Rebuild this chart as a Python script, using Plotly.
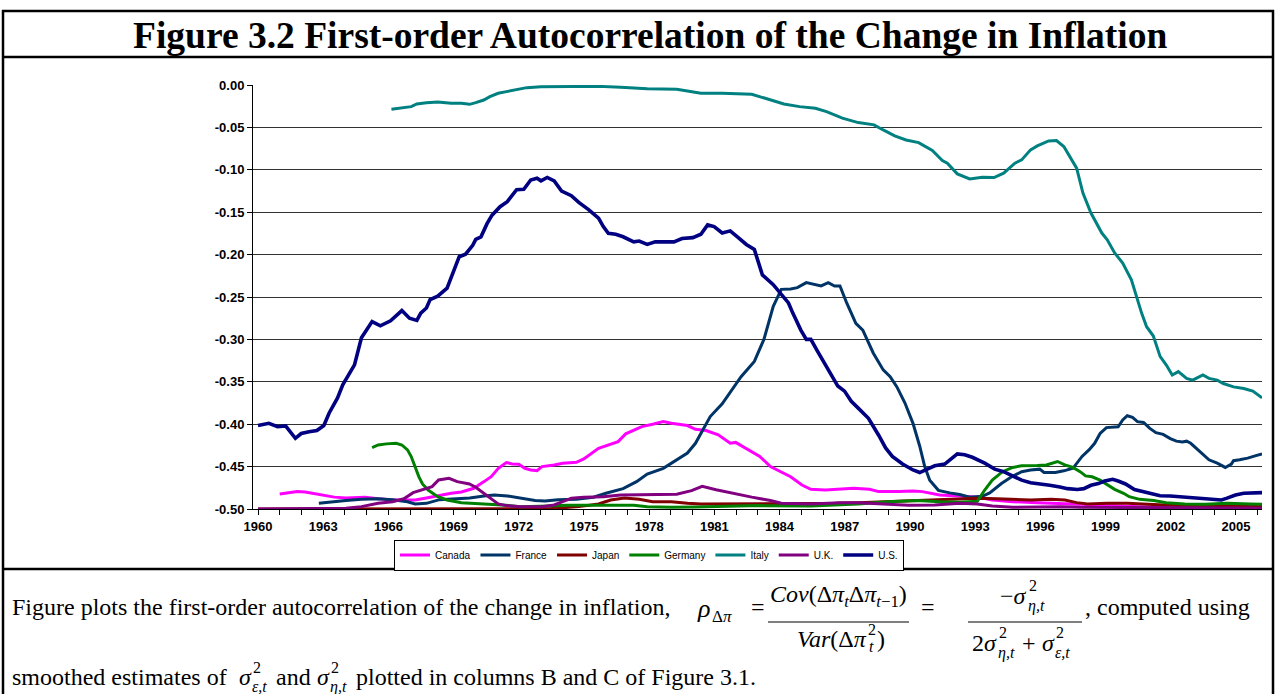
import plotly.graph_objects as go

# ---------------- data ----------------
canada_x = [1961.00, 1961.36, 1961.81, 1962.17, 1962.71, 1963.11, 1963.51, 1964.05, 1964.68, 1964.92, 1965.53, 1966.19,
            1966.88, 1967.23, 1967.75, 1968.40, 1968.89, 1969.36, 1969.93, 1970.40, 1970.73, 1971.06, 1971.43, 1971.71,
            1972.00, 1972.28, 1972.55, 1972.84, 1973.07, 1973.63, 1974.02, 1974.65, 1974.99, 1975.67, 1976.01, 1976.57,
            1976.92, 1977.66, 1978.16, 1978.65, 1979.02, 1979.76, 1980.13, 1980.62, 1981.18, 1981.73, 1981.98, 1982.35,
            1983.09, 1983.58, 1984.08, 1984.51, 1985.03, 1985.44, 1986.11, 1986.78, 1987.41, 1988.14, 1988.56, 1989.51,
            1990.14, 1990.57, 1991.37, 1992.29, 1993.10, 1993.79, 1994.73, 1995.86, 1996.90, 1997.83, 1998.75, 2000.57,
            2002.64, 2004.61, 2006.20]
canada_y = [-0.4823, -0.4807, -0.4795, -0.480, -0.4823, -0.4835, -0.486, -0.487, -0.486, -0.486, -0.488, -0.4894,
            -0.4894, -0.4894, -0.487, -0.4835, -0.4815, -0.480, -0.4756, -0.4677, -0.4618, -0.452, -0.4453, -0.4468,
            -0.4472, -0.452, -0.454, -0.4547, -0.450, -0.448, -0.446, -0.445, -0.441, -0.4284, -0.4252, -0.4205,
            -0.4114, -0.4028, -0.400, -0.3969, -0.3989, -0.4016, -0.406, -0.4075, -0.4126, -0.4225, -0.4215, -0.427,
            -0.438, -0.450, -0.456, -0.462, -0.4717, -0.4768, -0.4776, -0.4768, -0.4756, -0.4768, -0.4795, -0.4795,
            -0.4787, -0.4795, -0.4835, -0.4847, -0.486, -0.4894, -0.4914, -0.4925, -0.4933, -0.494, -0.4953, -0.4972,
            -0.4985, -0.4988, -0.499]

france_x = [1962.80, 1963.39, 1964.05, 1964.76, 1965.53, 1966.19, 1966.88, 1967.23, 1967.75, 1968.35, 1969.08, 1969.74,
            1970.40, 1970.87, 1971.48, 1972.09, 1972.75, 1973.21, 1973.80, 1974.65, 1975.44, 1976.01, 1976.80, 1977.42,
            1977.91, 1978.65, 1979.14, 1979.76, 1980.13, 1980.50, 1980.81, 1981.36, 1981.86, 1982.23, 1982.84, 1983.28,
            1983.71, 1984.08, 1984.51, 1984.82, 1985.23, 1985.65, 1985.91, 1986.24, 1986.53, 1986.78, 1987.09, 1987.51,
            1987.83, 1988.31, 1988.77, 1989.09, 1989.40, 1989.77, 1990.14, 1990.45, 1990.68, 1990.91, 1991.31, 1991.83,
            1992.29, 1992.75, 1993.33, 1993.67, 1994.21, 1994.68, 1995.14, 1995.55, 1995.97, 1996.17, 1996.69, 1997.08,
            1997.50, 1997.92, 1998.25, 1998.50, 1998.75, 1999.04, 1999.33, 1999.58, 1999.79, 2000.00, 2000.24, 2000.47,
            2000.75, 2001.04, 2001.32, 2001.65, 2001.98, 2002.26, 2002.54, 2002.73, 2002.92, 2003.39, 2003.76, 2004.14,
            2004.51, 2004.79, 2004.89, 2005.17, 2005.54, 2005.92, 2006.20]
france_y = [-0.4933, -0.4914, -0.490, -0.4886, -0.488, -0.489, -0.4914, -0.494, -0.4933, -0.489, -0.488, -0.487,
            -0.4846, -0.4835, -0.4846, -0.487, -0.490, -0.4905, -0.489, -0.4886, -0.4862, -0.4815, -0.476, -0.4677,
            -0.4587, -0.452, -0.444, -0.434, -0.4225, -0.405, -0.391, -0.376, -0.358, -0.344, -0.326, -0.300,
            -0.261, -0.241, -0.2405, -0.239, -0.233, -0.235, -0.237, -0.233, -0.237, -0.237, -0.257, -0.281,
            -0.289, -0.316, -0.336, -0.344, -0.356, -0.375, -0.399, -0.426, -0.450, -0.466, -0.478, -0.481,
            -0.483, -0.486, -0.485, -0.481, -0.470, -0.462, -0.456, -0.454, -0.453, -0.457, -0.457, -0.455,
            -0.452, -0.438, -0.430, -0.4225, -0.411, -0.404, -0.403, -0.403, -0.395, -0.390, -0.392, -0.397,
            -0.398, -0.405, -0.410, -0.412, -0.417, -0.420, -0.421, -0.420, -0.4225, -0.434, -0.442, -0.446,
            -0.451, -0.447, -0.443, -0.442, -0.440, -0.437, -0.435]

japan_x = [1960.00, 1973.40, 1974.76, 1975.67, 1976.23, 1976.86, 1977.54, 1978.16, 1979.02, 1979.76, 1980.38, 1981.73,
           1983.09, 1985.44, 1986.58, 1987.62, 1988.77, 1989.93, 1991.14, 1992.29, 1993.10, 1994.00, 1994.73, 1995.55,
           1996.48, 1997.13, 1997.67, 1998.17, 1999.08, 2000.00, 2000.94, 2001.98, 2003.58, 2004.61, 2006.20]
japan_y = [-0.500, -0.4996, -0.4972, -0.494, -0.4894, -0.487, -0.4886, -0.4914, -0.4914, -0.4933, -0.494, -0.494,
           -0.494, -0.4937, -0.4933, -0.4925, -0.4914, -0.4906, -0.4886, -0.4878, -0.4874, -0.4878, -0.4886, -0.4894,
           -0.4886, -0.4894, -0.4925, -0.494, -0.4933, -0.4933, -0.4945, -0.4957, -0.496, -0.4965, -0.4965]

germany_x = [1965.25, 1965.53, 1965.91, 1966.36, 1966.62, 1966.88, 1967.05, 1967.23, 1967.40, 1967.57, 1967.83, 1968.27,
             1968.70, 1969.36, 1970.02, 1970.73, 1971.43, 1972.09, 1972.75, 1973.40, 1974.19, 1974.99, 1975.89, 1976.69,
             1977.29, 1977.91, 1979.02, 1980.13, 1981.73, 1983.09, 1985.44, 1987.62, 1988.98, 1990.35, 1991.37, 1992.29,
             1993.10, 1993.44, 1993.79, 1994.26, 1994.73, 1995.14, 1995.86, 1996.28, 1996.79, 1997.13, 1997.50, 1997.83,
             1998.08, 1998.38, 1998.75, 1999.08, 1999.42, 1999.83, 2000.09, 2000.57, 2001.22, 2001.79, 2002.64, 2003.58,
             2004.61, 2005.64, 2006.20]
germany_y = [-0.4276, -0.4245, -0.4232, -0.4225, -0.4245, -0.4303, -0.4382, -0.450, -0.4618, -0.4705, -0.4776, -0.4854,
             -0.4894, -0.4925, -0.4933, -0.494, -0.4957, -0.4972, -0.4972, -0.4965, -0.4957, -0.4957, -0.4953, -0.4953,
             -0.4957, -0.4972, -0.498, -0.4976, -0.4972, -0.496, -0.4965, -0.494, -0.4914, -0.490, -0.4914, -0.492,
             -0.491, -0.4776, -0.466, -0.456, -0.451, -0.449, -0.4488, -0.448, -0.444, -0.448, -0.451, -0.456,
             -0.461, -0.462, -0.466, -0.4717, -0.4768, -0.4815, -0.4855, -0.4886, -0.490, -0.4925, -0.494, -0.4945,
             -0.4933, -0.494, -0.4945]

italy_x = [1966.14, 1966.45, 1966.71, 1967.05, 1967.31, 1967.75, 1968.27, 1968.53, 1968.89, 1969.36, 1969.74, 1970.02,
           1970.39, 1970.67, 1971.05, 1971.43, 1971.90, 1972.37, 1973.02, 1973.85, 1974.82, 1975.67, 1976.69, 1977.91,
           1979.27, 1979.82, 1980.38, 1981.36, 1982.72, 1983.34, 1984.20, 1984.92, 1985.65, 1986.16, 1986.89, 1987.62,
           1988.35, 1988.77, 1989.30, 1989.82, 1990.40, 1991.03, 1991.49, 1991.72, 1992.18, 1992.75, 1993.33, 1993.87,
           1994.31, 1994.83, 1995.14, 1995.55, 1995.86, 1996.38, 1996.74, 1997.08, 1997.38, 1997.67, 1997.96, 1998.33,
           1998.83, 1999.08, 1999.42, 1999.79, 2000.19, 2000.42, 2000.66, 2000.89, 2001.20, 2001.51, 2001.79, 2002.07,
           2002.35, 2002.73, 2003.01, 2003.48, 2003.76, 2004.14, 2004.42, 2004.89, 2005.36, 2005.78, 2006.20]
italy_y = [-0.0287, -0.0275, -0.0263, -0.0255, -0.0224, -0.0208, -0.0200, -0.0208, -0.0216, -0.0216, -0.0228, -0.0208,
           -0.0177, -0.0137, -0.0098, -0.0078, -0.0059, -0.0031, -0.0020, -0.0016, -0.0012, -0.0016, -0.0027, -0.0043,
           -0.0051, -0.0078, -0.0098, -0.0098, -0.0110, -0.0157, -0.0224, -0.0255, -0.0275, -0.0314, -0.0390, -0.0443,
           -0.0470, -0.0530, -0.0600, -0.0648, -0.0679, -0.0773, -0.0891, -0.0922, -0.1048, -0.1107, -0.1087, -0.1091,
           -0.1040, -0.0922, -0.0883, -0.0765, -0.0718, -0.0659, -0.0655, -0.0726, -0.0863, -0.0981, -0.1275, -0.1510,
           -0.1746, -0.1825, -0.1980, -0.2100, -0.2296, -0.2500, -0.2690, -0.2850, -0.2960, -0.3200, -0.3300, -0.3420,
           -0.3380, -0.3460, -0.3480, -0.3420, -0.3460, -0.3480, -0.3520, -0.3560, -0.3580, -0.3610, -0.3690]

uk_x = [1960.00, 1963.39, 1964.05, 1964.76, 1965.53, 1966.19, 1966.71, 1967.14, 1967.62, 1968.01, 1968.31, 1968.79,
        1969.17, 1969.73, 1970.02, 1970.39, 1970.72, 1971.05, 1971.43, 1972.08, 1973.07, 1973.63, 1974.02, 1974.42,
        1974.99, 1975.89, 1976.69, 1977.91, 1979.27, 1979.95, 1980.44, 1981.08, 1981.98, 1982.72, 1983.58, 1984.08,
        1985.44, 1986.78, 1987.62, 1988.77, 1989.93, 1991.14, 1992.29, 1993.10, 1993.79, 1994.73, 1995.86, 1996.90,
        1997.83, 1998.75, 2000.57, 2002.64, 2004.61, 2006.20]
uk_y = [-0.500, -0.500, -0.4992, -0.4972, -0.4933, -0.4914, -0.488, -0.4807, -0.4768, -0.4736, -0.4658, -0.4638,
        -0.4677, -0.4705, -0.4744, -0.4815, -0.4886, -0.494, -0.496, -0.4972, -0.4972, -0.4953, -0.4914, -0.4874,
        -0.486, -0.4855, -0.4835, -0.4835, -0.4827, -0.4784, -0.4733, -0.4772, -0.4823, -0.486, -0.490, -0.4933,
        -0.494, -0.4925, -0.4925, -0.494, -0.4957, -0.4953, -0.4933, -0.494, -0.4965, -0.498, -0.4972, -0.4972,
        -0.498, -0.498, -0.4988, -0.4988, -0.4988, -0.499]

us_x = [1960.00, 1960.50, 1960.90, 1961.27, 1961.72, 1961.99, 1962.35, 1962.71, 1963.03, 1963.27, 1963.66, 1963.90,
        1964.44, 1964.76, 1965.25, 1965.63, 1966.10, 1966.62, 1966.97, 1967.31, 1967.49, 1967.75, 1967.92, 1968.27,
        1968.70, 1968.95, 1969.26, 1969.55, 1969.88, 1970.02, 1970.26, 1970.54, 1970.77, 1971.14, 1971.47, 1971.90,
        1972.23, 1972.55, 1972.84, 1973.02, 1973.31, 1973.63, 1973.97, 1974.42, 1974.76, 1975.21, 1975.67, 1975.89,
        1976.12, 1976.46, 1976.80, 1977.29, 1977.54, 1977.91, 1978.28, 1979.14, 1979.51, 1980.01, 1980.38, 1980.69,
        1980.99, 1981.36, 1981.73, 1982.10, 1982.47, 1982.84, 1983.21, 1983.71, 1984.08, 1984.41, 1984.61, 1984.98,
        1985.23, 1985.44, 1985.75, 1986.06, 1986.37, 1986.68, 1986.99, 1987.30, 1987.62, 1988.09, 1988.56, 1988.88,
        1989.19, 1989.66, 1990.14, 1990.45, 1990.80, 1991.14, 1991.60, 1991.95, 1992.18, 1992.52, 1992.87, 1993.44,
        1993.90, 1994.31, 1994.78, 1995.14, 1995.55, 1995.97, 1996.43, 1996.90, 1997.25, 1997.71, 1998.00, 1998.33,
        1998.67, 1998.96, 1999.33, 1999.58, 1999.92, 2000.33, 2000.75, 2001.13, 2001.51, 2001.98, 2002.35, 2002.73,
        2003.20, 2003.58, 2003.95, 2004.33, 2004.56, 2004.98, 2005.36, 2005.73, 2006.20]
us_y = [-0.4016, -0.399, -0.403, -0.402, -0.4166, -0.411, -0.409, -0.4075, -0.4016, -0.387, -0.369, -0.3535,
        -0.330, -0.298, -0.279, -0.284, -0.278, -0.266, -0.275, -0.2776, -0.269, -0.263, -0.253, -0.249,
        -0.2395, -0.222, -0.2025, -0.1995, -0.189, -0.182, -0.179, -0.1635, -0.1535, -0.1435, -0.1375, -0.1235,
        -0.123, -0.112, -0.110, -0.113, -0.109, -0.113, -0.125, -0.1305, -0.1385, -0.147, -0.157, -0.167,
        -0.175, -0.176, -0.179, -0.185, -0.184, -0.188, -0.185, -0.185, -0.181, -0.180, -0.176, -0.165,
        -0.167, -0.1745, -0.172, -0.180, -0.188, -0.194, -0.224, -0.2355, -0.247, -0.257, -0.269, -0.289,
        -0.300, -0.300, -0.314, -0.328, -0.340, -0.355, -0.361, -0.373, -0.381, -0.393, -0.413, -0.428,
        -0.438, -0.447, -0.454, -0.457, -0.453, -0.449, -0.447, -0.440, -0.435, -0.436, -0.439, -0.446,
        -0.453, -0.456, -0.462, -0.466, -0.469, -0.470, -0.472, -0.474, -0.476, -0.477, -0.476, -0.472,
        -0.470, -0.467, -0.465, -0.467, -0.4705, -0.477, -0.4795, -0.4815, -0.4843, -0.4847, -0.4855, -0.4862,
        -0.4875, -0.4882, -0.4882, -0.4894, -0.4875, -0.4835, -0.4815, -0.4807, -0.4807]

series_names = ["Canada", "France", "Japan", "Germany", "Italy", "U.K.", "U.S."]
y_tick_values = [0.00, -0.05, -0.10, -0.15, -0.20, -0.25, -0.30, -0.35, -0.40, -0.45, -0.50]
y_tick_labels = ["0.00", "-0.05", "-0.10", "-0.15", "-0.20", "-0.25", "-0.30", "-0.35", "-0.40", "-0.45", "-0.50"]
x_minor_years = list(range(1960, 2007))
x_label_years = [1960, 1963, 1966, 1969, 1972, 1975, 1978, 1981, 1984, 1987, 1990, 1993, 1996, 1999, 2002, 2005]

title_text = "Figure 3.2 First-order Autocorrelation of the Change in Inflation"

# ---------------- styling / layout ----------------
W, H = 1275, 694
PL, PR, PT, PB = 253, 1262, 85, 509
SERIF = "Liberation Serif, Times New Roman, serif"
SANS = "Liberation Sans, Arial, sans-serif"

series = [
    (canada_x, canada_y, "#FF00FF", 3),
    (france_x, france_y, "#003366", 3),
    (japan_x, japan_y, "#800000", 3),
    (germany_x, germany_y, "#008000", 3),
    (italy_x, italy_y, "#008080", 3),
    (uk_x, uk_y, "#800080", 3),
    (us_x, us_y, "#000080", 3.6),
]


def px(x):
    return (x - PL) / (PR - PL)


def py(y):
    return (PB - y) / (PB - PT)


fig = go.Figure()
for name, (xs, ys, col, w) in zip(series_names, series):
    fig.add_trace(go.Scatter(x=xs, y=ys, name=name, mode="lines",
                             line=dict(color=col, width=w), cliponaxis=False))

annotations = []


def text_at(s, x, base, size, family=SERIF, anchor="left"):
    asc = 0.891 if family == SERIF else 0.905
    annotations.append(dict(text=s, x=px(x), y=py(base - asc * size), xref="paper", yref="paper",
                            xanchor=anchor, yanchor="top", showarrow=False, borderpad=0,
                            font=dict(family=family, size=size, color="black")))


# title
text_at("<b>" + title_text + "</b>", 650, 47, 37.5, anchor="center")

# caption line 1
FS = 24
SS = 16
B1 = 614
D = 5  # fraction offset
text_at("Figure plots the first-order autocorrelation of the change in inflation,", 11, B1, FS)
text_at("<i>ρ</i>", 696, B1 + 2, 26)
text_at("Δ<i>π</i>", 711, B1 + 7, 17)
text_at("=", 750, B1, FS)
# fraction 1
text_at("<i>Cov</i>(Δ<i>π</i><sub><i>t</i></sub>Δ<i>π</i><sub><i>t</i>−1</sub>)", 838, 596 + D, FS, anchor="center")
text_at("<i>Var</i>(Δ<i>π</i>", 796, 641 + D, FS)
text_at("2", 867, 629 + D, SS)
text_at("<i>t</i>", 868, 646 + D, SS)
text_at(")", 876, 641 + D, FS)
text_at("=", 920, B1, FS)
# fraction 2
text_at("−<i>σ</i>", 999, 598 + D, FS)
text_at("2", 1028, 585 + D, SS)
text_at("<i>η,t</i>", 1027, 605 + D, SS)
text_at("2<i>σ</i>", 971, 645 + D, FS)
text_at("2", 998, 632 + D, SS)
text_at("<i>η,t</i>", 997, 652 + D, SS)
text_at("+", 1021, 645 + D, FS)
text_at("<i>σ</i>", 1041, 645 + D, FS)
text_at("2", 1055, 632 + D, SS)
text_at("<i>ε,t</i>", 1054, 652 + D, SS)
text_at(", computed using", 1084, B1, FS)

# caption line 2
B2 = 684
text_at("smoothed estimates of", 11, B2, FS)
text_at("<i>σ</i>", 238, B2, FS)
text_at("2", 252, B2 - 12, SS)
text_at("<i>ε,t</i>", 251, B2 + 7, SS)
text_at("and", 275, B2, FS)
text_at("<i>σ</i>", 316, B2, FS)
text_at("2", 330, B2 - 12, SS)
text_at("<i>η,t</i>", 329, B2 + 7, SS)
text_at("plotted in columns B and C of Figure 3.1.", 355, B2, FS)

shapes = []


def hline(y, x0, x1, w):
    shapes.append(dict(type="line", xref="paper", yref="paper", x0=px(x0), x1=px(x1), y0=py(y), y1=py(y),
                       line=dict(color="black", width=w)))


def vline(x, y0, y1, w):
    shapes.append(dict(type="line", xref="paper", yref="paper", x0=px(x), x1=px(x), y0=py(y0), y1=py(y1),
                       line=dict(color="black", width=w)))


hline(11, 2, 1274, 2.5)
hline(57, 2, 1274, 2.5)
hline(569, 2, 1274, 2.5)
vline(3, 10, 700, 2.5)
vline(1273, 10, 700, 2.5)
# fraction bars
hline(617 + D, 768, 909, 1.2)
hline(617 + D, 968, 1082, 1.2)

fig.update_layout(
    width=W, height=H, autosize=False,
    margin=dict(l=PL, r=W - PR, t=PT, b=H - PB, pad=0),
    paper_bgcolor="white", plot_bgcolor="white",
    showlegend=True,
    legend=dict(orientation="h", x=px(649), xanchor="center", y=py(555), yanchor="middle",
                font=dict(family=SANS, size=10, color="black"), bordercolor="black", borderwidth=1,
                bgcolor="white", itemwidth=30, tracegroupgap=0),
    annotations=annotations,
    shapes=shapes,
    xaxis=dict(range=[1959.77, 2006.2], tickmode="array", tickvals=x_label_years,
               ticktext=[str(y) for y in x_label_years],
               ticks="outside", ticklen=5, tickcolor="black", tickwidth=1,
               minor=dict(tickmode="array", tickvals=x_minor_years, ticks="outside", ticklen=5,
                          tickcolor="black", tickwidth=1, showgrid=False),
               showline=True, linecolor="black", linewidth=1, showgrid=False, zeroline=False,
               tickfont=dict(family=SANS, size=13, color="black", weight="bold")),
    yaxis=dict(range=[-0.5, 0.0], tickmode="array", tickvals=y_tick_values, ticktext=y_tick_labels,
               ticks="outside", ticklen=5, tickcolor="black", tickwidth=1,
               showline=True, linecolor="black", linewidth=1, showgrid=True, gridcolor="#333333",
               gridwidth=1, zeroline=False,
               tickfont=dict(family=SANS, size=13, color="black", weight="bold")),
)

fig.write_html("out.html", config={"displayModeBar": False},
               post_script="document.body.style.margin='0';document.body.style.overflow='hidden';")
